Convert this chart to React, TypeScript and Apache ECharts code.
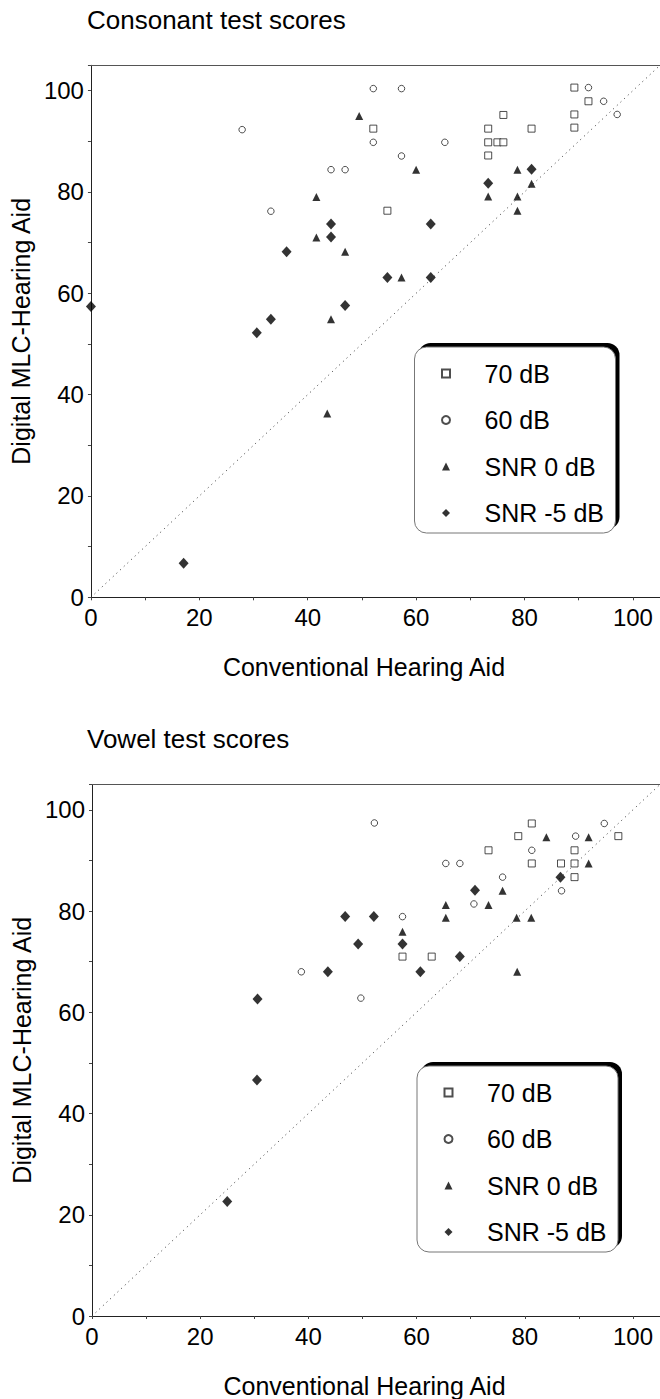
import React, { useEffect, useRef } from "react";
import * as echarts from "echarts";

const seriesNames = ["70 dB", "60 dB", "SNR 0 dB", "SNR -5 dB"];
const chartTitles = ["Consonant test scores", "Vowel test scores"];
const xAxisName = "Conventional Hearing Aid";
const yAxisName = "Digital MLC-Hearing Aid";

// Consonant test scores
const consonant70 = [
  [52.1, 92.5], [54.7, 76.3], [89.2, 100.6], [91.8, 97.9], [89.2, 95.3], [76.1, 95.2],
  [73.3, 92.5], [81.3, 92.5], [89.2, 92.7], [73.3, 89.8], [75.0, 89.8], [76.1, 89.8], [73.3, 87.2],
];
const consonant60 = [
  [52.1, 100.4], [57.3, 100.4], [27.9, 92.3], [52.1, 89.8], [65.3, 89.8], [57.3, 87.1],
  [44.3, 84.4], [46.9, 84.4], [33.2, 76.2], [91.8, 100.6], [94.6, 97.9], [97.1, 95.3],
];
const consonantSnr0 = [
  [49.5, 95.0], [60.0, 84.4], [41.6, 79.0], [78.7, 84.4], [81.3, 81.6], [73.3, 79.1], [78.7, 79.1],
  [78.7, 76.3], [41.6, 71.0], [46.9, 68.2], [44.3, 54.9], [57.3, 63.1], [43.6, 36.3],
];
const consonantSnrM5 = [
  [81.3, 84.5], [73.3, 81.7], [44.3, 73.7], [44.3, 71.1], [36.1, 68.2], [0, 57.4], [46.9, 57.6],
  [33.2, 54.9], [30.6, 52.2], [62.7, 73.7], [54.7, 63.1], [62.7, 63.1], [17.1, 6.7],
];

// Vowel test scores
const vowel70 = [
  [81.3, 97.3], [78.8, 94.8], [97.3, 94.8], [73.3, 92.0], [89.2, 92.0], [81.3, 89.4], [86.7, 89.4],
  [89.2, 89.4], [89.2, 86.7], [57.4, 71.0], [62.8, 71.0],
];
const vowel60 = [
  [52.2, 97.4], [94.7, 97.3], [89.4, 94.8], [81.3, 92.0], [65.4, 89.4], [68.0, 89.4], [75.9, 86.7],
  [86.8, 84.0], [70.6, 81.4], [57.4, 78.9], [38.7, 68.0], [49.7, 62.8],
];
const vowelSnr0 = [
  [84.0, 94.6], [91.8, 94.6], [91.8, 89.4], [75.9, 84.0], [65.4, 81.2], [73.3, 81.2], [65.4, 78.7],
  [78.5, 78.7], [81.2, 78.7], [57.4, 75.9], [78.6, 68.0],
];
const vowelSnrM5 = [
  [86.6, 86.7], [70.8, 84.1], [46.8, 78.9], [52.1, 78.9], [49.2, 73.5], [57.4, 73.5], [68.0, 71.0],
  [43.6, 68.0], [60.7, 68.0], [30.6, 62.6], [30.5, 46.6], [25.0, 22.6],
];

const diagonal = [[0, 0], [105, 105]];

const FONT = "'Liberation Sans', Arial, Helvetica, sans-serif";

const panels = [
  { left: 89.3, top: 65.3, data: [consonant70, consonant60, consonantSnr0, consonantSnrM5], titleTop: 7, legendBox: { x: 414.5, y: 347 } },
  { left: 92, top: 784.5, data: [vowel70, vowel60, vowelSnr0, vowelSnrM5], titleTop: 725.5, legendBox: { x: 417, y: 1066 } },
];

const PW = 574.4;
const PH = 532;

const symbolStyles = [
  { symbol: "rect", symbolSize: 7, itemStyle: { color: "#fff", borderColor: "#222", borderWidth: 1 } },
  { symbol: "circle", symbolSize: 6.5, itemStyle: { color: "#fff", borderColor: "#222", borderWidth: 1 } },
  { symbol: "triangle", symbolSize: [8, 8], itemStyle: { color: "#000" } },
  { symbol: "diamond", symbolSize: [10, 11], itemStyle: { color: "#000" } },
];

export default function App() {
  const ref = useRef<HTMLDivElement>(null);
  useEffect(() => {
    if (!ref.current) return;
    const chart = echarts.init(ref.current, undefined, { renderer: "svg" });
    const grids: any[] = [];
    const xAxes: any[] = [];
    const yAxes: any[] = [];
    const series: any[] = [];
    const legends: any[] = [];
    const titles: any[] = [];
    const graphics: any[] = [];

    panels.forEach((p, i) => {
      grids.push({ left: p.left, top: p.top, width: PW, height: PH, containLabel: false });
      const labelFmt = (v: number) => (v % 20 === 0 ? String(v) : "");
      xAxes.push({
        type: "value", gridIndex: i, min: 0, max: 105, interval: 20, position: "bottom",
        name: xAxisName, nameLocation: "middle", nameGap: 57,
        nameTextStyle: { fontSize: 25, color: "#000", fontFamily: FONT, padding: [0, 23, 0, 0] },
        axisLine: { show: true, lineStyle: { color: "#222", width: 1 } },
        axisTick: { show: true, length: 3, lineStyle: { color: "#444" } },
        minorTick: { show: true, splitNumber: 2, length: 3, lineStyle: { color: "#444" } },
        axisLabel: { formatter: labelFmt, fontSize: 24, color: "#000", fontFamily: FONT, margin: 8, showMaxLabel: false },
        splitLine: { show: false },
      });
      xAxes.push({
        type: "value", gridIndex: i, min: 0, max: 105, position: "top",
        axisLine: { show: true, lineStyle: { color: "#555", width: 1 } },
        axisTick: { show: false }, axisLabel: { show: false }, splitLine: { show: false },
      });
      yAxes.push({
        type: "value", gridIndex: i, min: 0, max: 105, interval: 20,
        name: yAxisName, nameLocation: "middle", nameGap: 55,
        nameTextStyle: { fontSize: 25, color: "#000", fontFamily: FONT },
        axisLine: { show: true, lineStyle: { color: "#222", width: 1 } },
        axisTick: { show: true, length: 3, lineStyle: { color: "#444" } },
        minorTick: { show: true, splitNumber: 2, length: 3, lineStyle: { color: "#444" } },
        axisLabel: { formatter: labelFmt, fontSize: 24, color: "#000", fontFamily: FONT, margin: 7, showMaxLabel: false },
        splitLine: { show: false },
      });
      series.push({
        type: "line", xAxisIndex: i * 2, yAxisIndex: i, data: diagonal, symbol: "none", silent: true,
        lineStyle: { color: "#333", width: 1, type: [1, 4] }, z: 1,
      });
      p.data.forEach((d, k) => {
        series.push({
          type: "scatter", name: seriesNames[k], xAxisIndex: i * 2, yAxisIndex: i, data: d,
          ...symbolStyles[k], z: 3,
        });
      });
      titles.push({
        text: chartTitles[i], left: 87, top: p.titleTop, padding: 0,
        textStyle: { fontSize: 26, fontWeight: "normal", color: "#000", fontFamily: FONT },
      });
      const bx = p.legendBox.x;
      const by = p.legendBox.y;
      graphics.push({
        type: "rect", shape: { x: bx + 4, y: by - 4, width: 201, height: 186, r: 12 },
        style: { fill: "#000" }, z: 1, silent: true,
      });
      graphics.push({
        type: "rect", shape: { x: bx, y: by, width: 201, height: 186, r: 12 },
        style: { fill: "#fff", stroke: "#777", lineWidth: 1 }, z: 2, silent: true,
      });
      legends.push({
        orient: "vertical", left: bx + 26.5, top: by + 11.5, padding: 0,
        itemWidth: 8, itemHeight: 8, itemGap: 16.5, selectedMode: false, z: 10,
        data: seriesNames,
        textStyle: { fontSize: 25, lineHeight: 30, color: "#000", fontFamily: FONT, padding: [0, 0, 0, 29.5] },
      });
    });

    chart.setOption({
      animation: false,
      backgroundColor: "#fff",
      title: titles,
      grid: grids,
      xAxis: xAxes,
      yAxis: yAxes,
      legend: legends,
      graphic: { elements: graphics },
      series,
    });
    return () => chart.dispose();
  }, []);
  return (
    <div
      ref={ref}
      style={{ position: "absolute", left: 0, top: 0, width: 660, height: 1399, background: "#fff" }}
    />
  );
}
